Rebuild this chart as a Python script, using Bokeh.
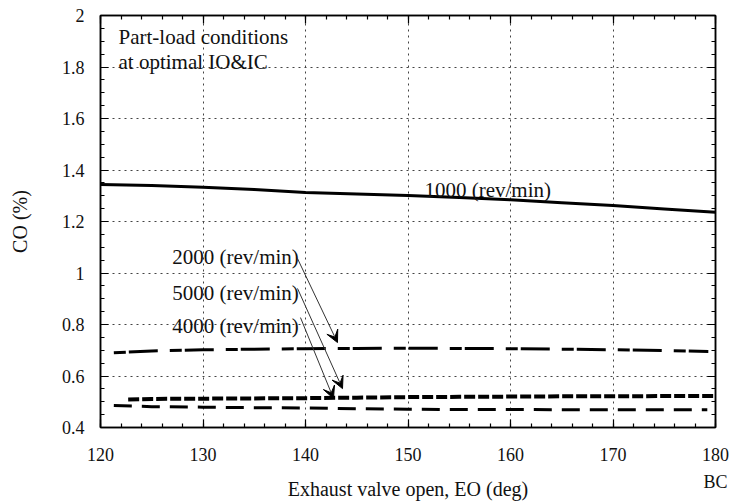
import numpy as np
from bokeh.plotting import figure
from bokeh.models import (LinearAxis, FixedTicker, Label, Arrow, VeeHead, Range1d, Grid)
from bokeh.embed import file_html
from bokeh.resources import INLINE

# ---- data ----
x_1000 = [120, 125, 130, 135, 140, 145, 150, 155, 160, 165, 170, 175, 180]
co_1000 = [1.344, 1.340, 1.333, 1.324, 1.313, 1.307, 1.301, 1.293, 1.284, 1.273, 1.262, 1.249, 1.236]

x_2000 = [121.3, 125, 130, 135, 140, 145, 150, 155, 160, 165, 170, 175, 179.3]
co_2000 = [0.690, 0.697, 0.702, 0.704, 0.706, 0.707, 0.708, 0.707, 0.706, 0.704, 0.702, 0.699, 0.695]

x_5000 = [122.7, 125, 130, 135, 140, 145, 150, 155, 160, 165, 170, 175, 180]
co_5000 = [0.509, 0.511, 0.512, 0.513, 0.514, 0.516, 0.518, 0.519, 0.520, 0.521, 0.521, 0.522, 0.522]

x_4000 = [121.3, 125, 130, 135, 140, 145, 150, 155, 160, 165, 170, 175, 179.2]
co_4000 = [0.485, 0.481, 0.479, 0.477, 0.476, 0.473, 0.471, 0.470, 0.470, 0.469, 0.469, 0.469, 0.469]

x_ticks = [120, 130, 140, 150, 160, 170, 180]
x_tick_labels = ["120", "130", "140", "150", "160", "170", "180"]
y_ticks = [0.4, 0.6, 0.8, 1.0, 1.2, 1.4, 1.6, 1.8, 2.0]
y_tick_labels = ["0.4", "0.6", "0.8", "1", "1.2", "1.4", "1.6", "1.8", "2"]

series_labels = ["1000 (rev/min)", "2000 (rev/min)", "5000 (rev/min)", "4000 (rev/min)"]

FONT = "Liberation Serif"
INK = "#111111"

p = figure(width=732, height=503, output_backend="svg", toolbar_location=None,
           x_range=Range1d(120, 180), y_range=Range1d(0.4, 2.0),
           min_border_left=100, min_border_right=17, min_border_top=15,
           min_border_bottom=76, x_axis_type=None, y_axis_type=None)
p.background_fill_color = "white"
p.border_fill_color = "white"
p.outline_line_color = "black"
p.outline_line_width = 1.5

x_minor = list(np.arange(120, 180.01, 2))
y_minor = list(np.round(np.arange(0.4, 2.001, 0.05), 3))
xt = FixedTicker(ticks=x_ticks, minor_ticks=x_minor)
yt = FixedTicker(ticks=y_ticks, minor_ticks=y_minor)


def style_axis(ax, show_labels):
    ax.axis_line_color = "black"
    ax.axis_line_width = 1.5
    ax.major_tick_in = 8
    ax.major_tick_out = 0
    ax.minor_tick_in = 4
    ax.minor_tick_out = 0
    ax.major_tick_line_color = "black"
    ax.minor_tick_line_color = "black"
    ax.major_tick_line_width = 1.2
    ax.minor_tick_line_width = 1.2
    ax.major_label_text_font = FONT
    ax.major_label_text_color = INK
    ax.major_label_text_font_size = "18px"
    ax.axis_label_text_font = FONT
    ax.axis_label_text_font_style = "normal"
    ax.axis_label_text_color = INK
    ax.axis_label_text_font_size = "20px"
    if not show_labels:
        ax.major_label_overrides = {t: "" for t in ax.ticker.ticks}
        ax.major_label_standoff = 0


# primary bottom axis: numbers only
xb = LinearAxis(ticker=xt)
style_axis(xb, True)
xb.major_label_overrides = dict(zip(x_ticks, x_tick_labels))
xb.major_label_standoff = 20
p.add_layout(xb, "below")

# secondary bottom axis: "BC" under 180 and the axis title
bc_ticker = FixedTicker(ticks=[180], minor_ticks=[])
xb2 = LinearAxis(ticker=bc_ticker, axis_label="Exhaust valve open, EO (deg)")
style_axis(xb2, True)
xb2.major_label_overrides = {180: "BC"}
xb2.axis_line_color = None
xb2.major_tick_line_color = None
xb2.minor_tick_line_color = None
xb2.major_tick_in = 0
xb2.minor_tick_in = 0
xb2.major_label_standoff = 8
xb2.axis_label_standoff = -17
p.add_layout(xb2, "below")

yl = LinearAxis(ticker=yt, axis_label="CO (%)")
style_axis(yl, True)
yl.major_label_overrides = dict(zip(y_ticks, y_tick_labels))
yl.major_label_standoff = 16
yl.axis_label_standoff = 28
p.add_layout(yl, "left")

xa = LinearAxis(ticker=xt)
style_axis(xa, False)
p.add_layout(xa, "above")
yr = LinearAxis(ticker=yt)
style_axis(yr, False)
p.add_layout(yr, "right")

# dotted grid
for dim, tk in ((0, xt), (1, yt)):
    p.add_layout(Grid(dimension=dim, ticker=tk, grid_line_color="#444444",
                      grid_line_dash="2 4", grid_line_width=1))

# curves
p.line(x_1000, co_1000, line_color="black", line_width=3)
p.line(x_2000, co_2000, line_color="black", line_width=3, line_dash="12 3 29 12")
p.line(x_5000, co_5000, line_color="black", line_width=4, line_dash="11 3")
p.line(x_4000, co_4000, line_color="black", line_width=3, line_dash="18 10")


def add_text(x, y, t, align="left", baseline="alphabetic", size="21px"):
    p.add_layout(Label(x=x, y=y, text=t, text_font=FONT, text_font_size=size,
                       text_color=INK, text_align=align, text_baseline=baseline))


add_text(121.76, 1.918, "Part-load conditions")
add_text(121.76, 1.821, "at optimal IO&IC")
add_text(151.6, 1.322, series_labels[0])
add_text(127.0, 1.064, series_labels[1])
add_text(127.0, 0.924, series_labels[2])
add_text(127.0, 0.796, series_labels[3])

for (x0, y0, x1, y1) in [(139.22, 1.056, 143.12, 0.730),
                         (139.22, 0.940, 143.61, 0.551),
                         (139.51, 0.827, 142.73, 0.513)]:
    p.add_layout(Arrow(end=VeeHead(size=12, fill_color="black", line_color="black",
                                   line_width=1),
                       x_start=x0, y_start=y0, x_end=x1, y_end=y1,
                       line_color="#333333", line_width=1))

open("out.html", "w").write(file_html(p, INLINE))
